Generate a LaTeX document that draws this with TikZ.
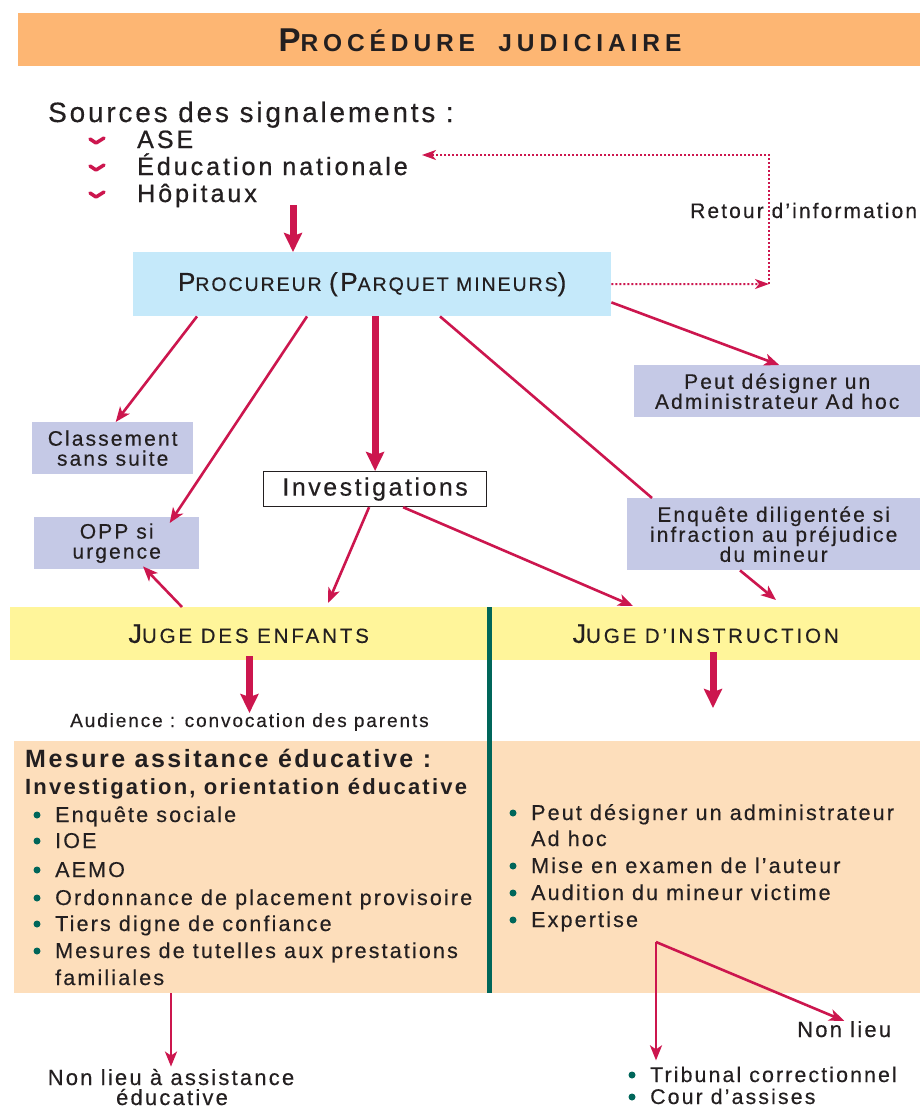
\documentclass[tikz,border=0pt]{standalone}
\usepackage{fontspec}
\setmainfont{Liberation Sans}[LetterSpace=10, UprightFeatures={FakeBold=0.35}]
\newfontfamily\medf{Liberation Sans}[LetterSpace=12, FakeBold=0.8]
\newfontfamily\titlef{Liberation Sans Bold}[LetterSpace=20]
\newfontfamily\scf{Liberation Sans}[LetterSpace=14, FakeBold=0.35]
\usetikzlibrary{arrows.meta,calc}
\definecolor{jred}{RGB}{204,22,78}
\definecolor{jorange}{RGB}{253,182,115}
\definecolor{jblue}{RGB}{197,233,250}
\definecolor{jlav}{RGB}{197,201,230}
\definecolor{jyellow}{RGB}{255,245,154}
\definecolor{jpeach}{RGB}{253,222,187}
\definecolor{jteal}{RGB}{0,102,90}
\definecolor{jtext}{RGB}{35,31,32}
\newcommand{\fs}[1]{\fontsize{#1}{#1}\selectfont}
\tikzset{
  every node/.style={text=jtext, inner sep=0pt},
  lbox/.style={fill=jlav, align=center, anchor=north west, font=\fontsize{21}{20}\selectfont},
  arr/.style={draw=jred, line width=2.6pt, -{Stealth[length=15pt,width=12pt,inset=4pt]}},
  plainline/.style={draw=jred, line width=2.6pt},
  bigarr/.style={draw=jred, line width=7pt, -{Stealth[length=19pt,width=18pt,inset=3pt]}},
  dotarr/.style={draw=jred, line width=2pt, dash pattern=on 2pt off 2pt, -{Stealth[length=14pt,width=10pt,inset=4pt]}},
  bul/.style={circle, fill=jteal, minimum size=7pt},
  txt/.style={anchor=base west},
  chk/.style={draw=jred, line width=3.5pt, line join=round, line cap=round}
}
\begin{document}
\begin{tikzpicture}[x=1pt,y=-1pt]
\useasboundingbox (0,0) rectangle (920,1108);
\fill[white] (0,0) rectangle (920,1108);
% title
\node[fill=jorange, minimum width=902pt, minimum height=53pt, anchor=north west] (title) at (18,13) {};
\node (titletext) at (480,40) {\titlef\fs{33}P\fs{24.5}ROCÉDURE \ JUDICIAIRE};
% sources
\node[txt, font=\fs{28}] (src) at (48,122) {Sources des signalements :};
\node[txt, font=\medf\fs{25}] (ase) at (137,148) {ASE};
\node[txt, font=\medf\fs{25}] (edu) at (137,175) {Éducation nationale};
\node[txt, font=\medf\fs{25}] (hop) at (137,202) {Hôpitaux};
\foreach \yy in {0,27,54}{
  \draw[chk] (90,{139+\yy}) -- (96,{143+\yy}) -- (104,{138+\yy});
}
% procureur
\node[fill=jblue, minimum width=478pt, minimum height=64pt, anchor=north west] (proc) at (133,252)
  {\fs{26}P\fs{19.5}ROCUREUR \fs{26}(P\fs{19.5}ARQUET MINEURS\fs{26})};
\coordinate (s0) at (293,205);
\draw[bigarr] (s0) -- (s0 |- proc.north);
% retour d'information
\node[txt, font=\fs{21}] (retour) at (690,218) {Retour d’information};
\coordinate (retc) at (769,284);
\coordinate (rett) at (422,155);
\draw[dotarr] (proc.east) -- (retc);
\draw[dotarr] (retc) |- (rett);
% boxes
\node[lbox, minimum width=286pt, minimum height=52pt] (adhoc) at (634,365) {Peut désigner un\\Administrateur Ad hoc};
\node[lbox, minimum width=161pt, minimum height=52pt] (clas) at (32,422) {Classement\\sans suite};
\node[lbox, minimum width=165pt, minimum height=52pt] (opp) at (34,517) {OPP si\\urgence};
\node[lbox, minimum width=293pt, minimum height=72pt] (enq) at (627,498) {Enquête diligentée si\\infraction au préjudice\\du mineur};
\node[draw=jtext, line width=1.2pt, fill=white, minimum width=223pt, minimum height=35pt, anchor=north west, font=\fs{25}] (inv) at (263,471) {Investigations};
% bands
\node[fill=jyellow, minimum width=477pt, minimum height=53pt, anchor=north west] (je) at (10,607)
  {\scf\fs{27}J\fs{20.5}UGE DES ENFANTS};
\node[fill=jyellow, minimum width=429pt, minimum height=53pt, anchor=north west] (ji) at (491,607)
  {\scf\fs{27}J\fs{20.5}UGE D’INSTRUCTION};
\node[fill=jpeach, minimum width=473pt, minimum height=252pt, anchor=north west] (mae) at (14,741) {};
\node[fill=jpeach, minimum width=429pt, minimum height=252pt, anchor=north west] (jip) at (491,741) {};
\draw[jteal, line width=5pt] ($(je.north east)+(2,0)$) -- ($(mae.south east)+(2,0)$);
% connectors from procureur
\draw[arr] ($(proc.south west)+(64,0)$) -- ($(clas.north)+(3,0)$);
\draw[arr] ($(proc.south west)+(174,0)$) -- ($(opp.north)+(53,6)$);
\draw[bigarr] (proc.south -| inv.north) -- (inv.north);
\draw[arr] ($(proc.south east)+(0,-14)$) -- ($(adhoc.north)+(2,0)$);
\draw[plainline] ($(proc.south west)+(307,0)$) -- ($(enq.north west)+(25,0)$);
% investigations
\draw[arr] ($(inv.south)+(-6,0)$) -- ($(je.north west)+(318,-4)$);
\draw[arr] ($(inv.south)+(28,0)$) -- ($(ji.north west)+(142,-1)$);
\draw[arr] ($(je.north west)+(172,0)$) -- ($(opp.south west)+(109,-3)$);
\draw[arr] ($(enq.south west)+(113,0)$) -- ($(ji.north west)+(285,-7)$);
% audience
\node[txt, font=\fs{19}] (aud) at (70,727) {Audience : convocation des parents};
\draw[bigarr] ($(je.south -| aud.north)+(0,-4)$) -- (aud.north);
\coordinate (ji0) at (713,652);
\draw[bigarr] (ji0) -- ++(0,56);
% left list
\node[txt, font=\bfseries\fs{25}] (mes) at (25,767) {Mesure assitance éducative :};
\node[txt, font=\bfseries\fs{22}] (inv2) at (25,794) {Investigation, orientation éducative};
\node[txt, font=\fs{21.5}] (l1) at (55,822) {Enquête sociale};
\node[txt, font=\fs{21.5}] (l2) at (55,848) {IOE};
\node[txt, font=\fs{21.5}] (l3) at (55,877) {AEMO};
\node[txt, font=\fs{21.5}] (l4) at (55,905) {Ordonnance de placement provisoire};
\node[txt, font=\fs{21.5}] (l5) at (55,931) {Tiers digne de confiance};
\node[txt, font=\fs{21.5}] (l6) at (55,958) {Mesures de tutelles aux prestations};
\node[txt, font=\fs{21.5}] (l7) at (55,985) {familiales};
\foreach \yy/\nn in {822/1,848/2,877/3,905/4,931/5,958/6}{
  \node[bul] (lb\nn) at (37,{\yy-7}) {};
}
% right list
\node[txt, font=\fs{21.5}] (r1) at (531,820) {Peut désigner un administrateur};
\node[txt, font=\fs{21.5}] (r2) at (531,846) {Ad hoc};
\node[txt, font=\fs{21.5}] (r3) at (531,873) {Mise en examen de l’auteur};
\node[txt, font=\fs{21.5}] (r4) at (531,900) {Audition du mineur victime};
\node[txt, font=\fs{21.5}] (r5) at (531,927) {Expertise};
\foreach \yy/\nn in {820/1,873/3,900/4,927/5}{
  \node[bul] (rb\nn) at (513,{\yy-7}) {};
}
% bottom
\node[txt, font=\fs{22}] (nonlieu) at (797,1037) {Non lieu};
\node[txt, font=\fs{21.3}] (trib) at (650,1082) {Tribunal correctionnel};
\node[txt, font=\fs{21.3}] (cour) at (650,1104) {Cour d’assises};
\node[bul] (tb1) at (632,1075) {};
\node[bul] (tb2) at (632,1097) {};
\coordinate (fork) at (656,942);
\draw[arr] (fork) -- (nonlieu.north);
\draw[arr] (fork) -- ($(fork |- trib.north)+(0,-6)$);
\node[font=\fs{22}, anchor=base] (nl1) at (171,1085) {Non lieu à assistance};
\node[font=\fs{22}, anchor=base] (nl2) at (172,1105) {éducative};
\draw[arr] (nl1.north |- mae.south) -- ($(nl1.north)+(0,-2)$);
\end{tikzpicture}
\end{document}
